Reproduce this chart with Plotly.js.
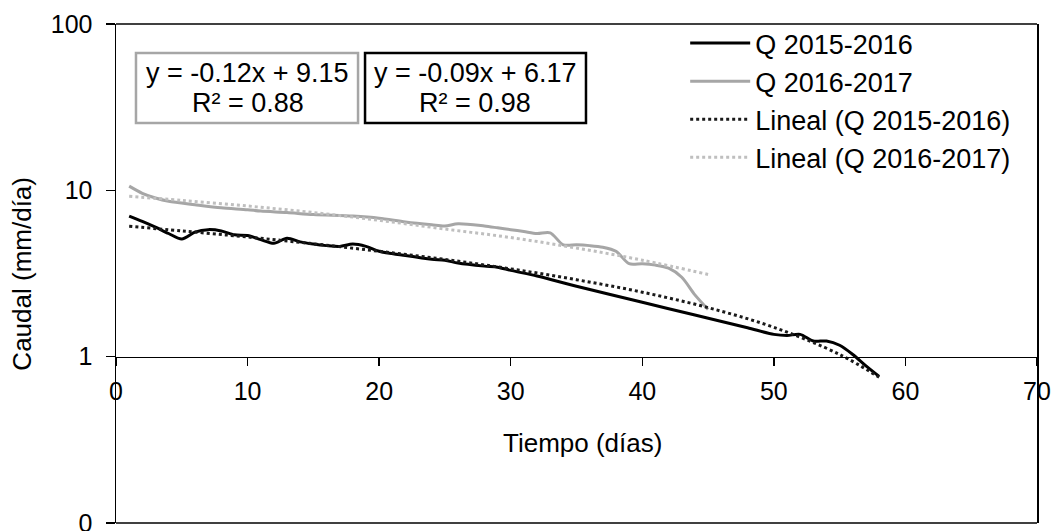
<!DOCTYPE html>
<html>
<head>
<meta charset="utf-8">
<script src="https://cdn.plot.ly/plotly-3.0.1.min.js"></script>
<style>html,body{margin:0;padding:0;background:#fff;}#chart{width:1053px;height:531px;}</style>
</head>
<body>
<div id="chart"></div>
<script>
// ---- Data ----
const daysQ1516 = [1,2,3,4,5,6,7,8,9,10,11,12,13,14,15,16,17,18,19,20,22,24,25,26,28,29,30,32,35,40,44,48,50,51,52,53,54,55,56,57,58];
const valQ1516  = [7.0,6.5,6.0,5.5,5.1,5.6,5.8,5.7,5.4,5.35,5.05,4.8,5.15,4.9,4.75,4.65,4.6,4.75,4.6,4.3,4.05,3.85,3.8,3.65,3.5,3.45,3.3,3.05,2.65,2.12,1.78,1.49,1.36,1.34,1.36,1.24,1.24,1.17,1.03,0.88,0.76];

const daysQ1617 = [1,2,3,4,6,8,10,11,13,15,18,20,22,24,25,26,28,29,30,31,32,33,34,35,36,37,38,39,40,41,42,43,44,45];
const valQ1617  = [10.6,9.6,9.0,8.6,8.2,7.85,7.65,7.5,7.35,7.15,7.0,6.8,6.45,6.2,6.1,6.3,6.1,5.95,5.8,5.65,5.5,5.55,4.7,4.7,4.65,4.55,4.3,3.62,3.62,3.55,3.4,3.0,2.35,1.92];

const daysLin1516 = [1,5,10,15,20,25,30,35,40,45,50,55,58];
const valLin1516  = [6.08,5.70,5.24,4.77,4.30,3.84,3.37,2.90,2.44,1.97,1.50,1.03,0.75];

const daysLin1617 = [1,5,10,15,20,25,30,35,40,45];
const valLin1617  = [9.2,8.7,8.05,7.35,6.6,5.85,5.2,4.5,3.8,3.12];

const seriesNames = ['Q 2015-2016','Q 2016-2017','Lineal (Q 2015-2016)','Lineal (Q 2016-2017)'];
const eqLines1516 = ['y = -0.09x + 6.17','R² = 0.98'];
const eqLines1617 = ['y = -0.12x + 9.15','R² = 0.88'];

const xTickVals = [0,10,20,30,40,50,60,70];
const yTickVals = [0.1,1,10,100];
const yTickText = ['0','1','10','100'];

// ---- Chart ----
const FONT = '"Liberation Sans", Arial, sans-serif';
const traces = [
  {x: daysQ1516, y: valQ1516, name: seriesNames[0], mode: 'lines',
   line: {color: '#000000', width: 3, shape: 'spline', smoothing: 0.8}},
  {x: daysQ1617, y: valQ1617, name: seriesNames[1], mode: 'lines',
   line: {color: '#a6a6a6', width: 3, shape: 'spline', smoothing: 0.8}},
  {x: daysLin1516, y: valLin1516, name: seriesNames[2], mode: 'lines',
   line: {color: '#1a1a1a', width: 3, dash: 'dot', shape: 'spline'}},
  {x: daysLin1617, y: valLin1617, name: seriesNames[3], mode: 'lines',
   line: {color: '#bfbfbf', width: 3, dash: 'dot', shape: 'spline'}}
];

const layout = {
  width: 1053, height: 531,
  margin: {l: 116, r: 16, t: 24, b: 8},
  paper_bgcolor: '#ffffff', plot_bgcolor: '#ffffff',
  font: {family: FONT, color: '#000000', size: 25},
  showlegend: true,
  legend: {x: 0.618, y: 1.01, xanchor: 'left', yanchor: 'top',
           font: {family: FONT, size: 27, color: '#000000'},
           bgcolor: 'rgba(0,0,0,0)', borderwidth: 0, itemwidth: 60, tracegroupgap: 0},
  xaxis: {range: [0, 70], tickvals: xTickVals, ticks: 'outside', ticklen: 8, tickwidth: 1.5,
          tickcolor: '#000', showline: true, linecolor: '#000', linewidth: 1.5,
          showgrid: false, zeroline: false, anchor: 'free', position: 0.3336,
          tickfont: {family: FONT, size: 25, color: '#000'}, ticklabelstandoff: 4},
  yaxis: {type: 'log', range: [-1.001, 2.0005], tickvals: yTickVals, ticktext: yTickText,
          ticks: 'outside', ticklen: 9, tickwidth: 1.5, tickcolor: '#000',
          showline: true, linecolor: '#000', linewidth: 1.5, mirror: true,
          showgrid: false, zeroline: false, ticklabeloverflow: 'allow',
          tickfont: {family: FONT, size: 25, color: '#000'}, ticklabelstandoff: 8},
  shapes: [
    {type: 'line', xref: 'paper', yref: 'paper', x0: 0, x1: 1, y0: 1, y1: 1, line: {color: '#000', width: 1.5}},
    {type: 'line', xref: 'paper', yref: 'paper', x0: 0, x1: 1, y0: 0, y1: 0, line: {color: '#000', width: 1.5}},
    {type: 'rect', xref: 'paper', yref: 'paper', x0: 0.0217, x1: 0.2628, y0: 0.8016, y1: 0.9419,
     line: {color: '#a6a6a6', width: 2.5}, fillcolor: '#ffffff', layer: 'above'},
    {type: 'rect', xref: 'paper', yref: 'paper', x0: 0.2704, x1: 0.5103, y0: 0.8016, y1: 0.9419,
     line: {color: '#000000', width: 2.5}, fillcolor: '#ffffff', layer: 'above'}
  ],
  annotations: [
    {xref: 'paper', yref: 'paper', x: 0.1433, y: 0.9018, text: eqLines1617[0], showarrow: false,
     xanchor: 'center', yanchor: 'middle', font: {family: FONT, size: 27, color: '#000'}},
    {xref: 'paper', yref: 'paper', x: 0.1433, y: 0.8417, text: eqLines1617[1], showarrow: false,
     xanchor: 'center', yanchor: 'middle', font: {family: FONT, size: 27, color: '#000'}},
    {xref: 'paper', yref: 'paper', x: 0.3903, y: 0.9018, text: eqLines1516[0], showarrow: false,
     xanchor: 'center', yanchor: 'middle', font: {family: FONT, size: 27, color: '#000'}},
    {xref: 'paper', yref: 'paper', x: 0.3903, y: 0.8417, text: eqLines1516[1], showarrow: false,
     xanchor: 'center', yanchor: 'middle', font: {family: FONT, size: 27, color: '#000'}},
    {xref: 'paper', yref: 'paper', x: 0.506, y: 0.160, text: 'Tiempo (días)', showarrow: false,
     xanchor: 'center', yanchor: 'middle', font: {family: FONT, size: 26, color: '#000'}},
    {xref: 'paper', yref: 'paper', x: -0.103, y: 0.5, text: 'Caudal (mm/día)', showarrow: false,
     textangle: -90, xanchor: 'center', yanchor: 'middle', font: {family: FONT, size: 26, color: '#000'}}
  ]
};

Plotly.newPlot('chart', traces, layout, {staticPlot: true, displayModeBar: false});
</script>
</body>
</html>
